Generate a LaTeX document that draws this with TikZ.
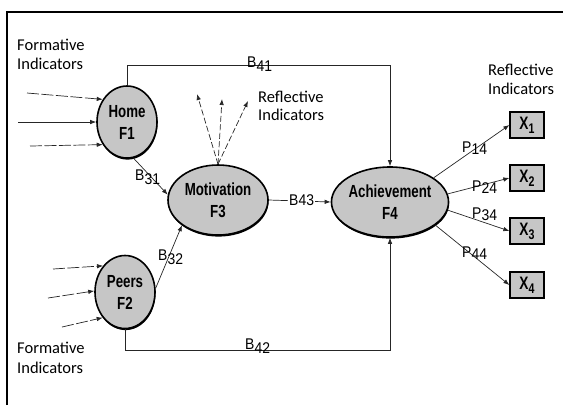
\documentclass[tikz,border=0pt]{standalone}
\usepackage{fontspec}
\setmainfont{Carlito}
\newfontfamily\nodefont[FakeStretch=0.76]{Liberation Sans}
\newfontfamily\labfont[FakeStretch=0.9]{Liberation Sans}
\usetikzlibrary{arrows.meta,shapes.geometric,shadows}
\newcommand\lsub[1]{\raisebox{-4bp}{#1}}
\newcommand\psub[1]{\raisebox{-2bp}{#1}}
\begin{document}
\begin{tikzpicture}[x=1bp,y=-1bp,
  lat/.style={ellipse, draw=black, line width=1.6bp, fill=gray!45, inner sep=0pt,
    align=center, font=\nodefont\bfseries\fontsize{17.5bp}{22bp}\selectfont,
    drop shadow={shadow xshift=0.5bp, shadow yshift=-1.6bp, fill=black, opacity=1}},
  ind/.style={rectangle, draw=black, line width=1.3bp, fill=gray!45, inner sep=0pt,
    minimum width=34bp, minimum height=26bp,
    font=\nodefont\bfseries\fontsize{18bp}{18bp}\selectfont,
    drop shadow={shadow xshift=1bp, shadow yshift=-1.4bp, fill=black, opacity=1}},
  arr/.style={-{Latex[length=6bp,width=4.5bp]}, line width=0.7bp, draw=black!85},
  brk/.style={dash pattern=on 12bp off 2.5bp},
  dsh/.style={dash pattern=on 6bp off 2.5bp},
  txt/.style={font=\fontsize{16.5bp}{18bp}\selectfont, inner sep=0pt, anchor=base west},
  lbl/.style={font=\labfont\fontsize{15.5bp}{15bp}\selectfont, inner sep=0pt, anchor=base west},
]
\useasboundingbox (0,0) rectangle (563,405);
\draw[line width=1.5bp] (7,405) -- (7,12) -- (563,12);

% latent variables
\node[lat, minimum width=60bp, minimum height=72bp] (home) at (127,122) {Home\\F1};
\node[lat, minimum width=60bp, minimum height=73bp] (peers) at (125,292) {Peers\\F2};
\node[lat, minimum width=100bp, minimum height=70bp] (motiv) at (218,200) {Motivation\\F3};
\node[lat, minimum width=116bp, minimum height=70bp] (ach) at (390,202) {Achievement\\F4};

% indicators
\node[ind] (x1) at (527,125) {X\lsub{\fontsize{14bp}{14bp}\selectfont 1}};
\node[ind] (x2) at (527,178) {X\lsub{\fontsize{14bp}{14bp}\selectfont 2}};
\node[ind] (x3) at (527,231) {X\lsub{\fontsize{14bp}{14bp}\selectfont 3}};
\node[ind] (x4) at (527,285) {X\lsub{\fontsize{14bp}{14bp}\selectfont 4}};

% texts
\node[txt] (t1) at (17,50) {Formative};
\node[txt] (t2) at (17,69) {Indicators};
\node[txt] (t3) at (17,353) {Formative};
\node[txt] (t4) at (17,373) {Indicators};
\node[txt] (t5) at (258,102) {Reflective};
\node[txt] (t6) at (258,120) {Indicators};
\node[txt] (t7) at (488,75) {Reflective};
\node[txt] (t8) at (488,94) {Indicators};

% formative arrows
\coordinate (h1) at (27,93);
\coordinate (h2) at (18,122);
\coordinate (h3) at (30,146);
\coordinate (p1) at (53,269);
\coordinate (p2) at (48,298);
\coordinate (p3) at (62,327);
\draw[arr, brk] (h1) -- (home.137);
\draw[arr] (h2) -- (home.west);
\draw[arr, brk] (h3) -- (home.-137);
\draw[arr, brk] (p1) -- (peers.130);
\draw[arr, brk] (p2) -- (peers.178);
\draw[arr, brk] (p3) -- (peers.-131);

% reflective arrows of motivation
\coordinate (r1) at (197,94);
\coordinate (r2) at (222,99);
\coordinate (r3) at (248,101);
\draw[arr, dsh] (motiv.north) -- (r1);
\draw[arr, dsh] (motiv.north) -- (r2);
\draw[arr, dsh] (motiv.north) -- (r3);

% structural paths
\draw[arr] (home.north) -- ++(0,-20) -| (ach.north);
\draw[arr] (peers.south) -- ++(0,21) -| (ach.south);
\draw[arr] (home.-80) -- (motiv.174);
\draw[arr] (peers.7) -- (motiv.-145);
\draw[arr] (motiv.east) -- (ach.west);

% reflective paths of achievement
\draw[arr] (ach.29) -- (x1.west);
\draw[arr] (ach.8) -- (x2.west);
\draw[arr] (ach.-8) -- (x3.west);
\draw[arr] (ach.-27) -- (x4.west);

% path labels
\node[lbl] (b41) at (247,67) {B\lsub{41}};
\node[lbl] (b42) at (245,349) {B\lsub{42}};
\node[lbl] (b31) at (135,180) {B\lsub{31}};
\node[lbl] (b32) at (158,260) {B\lsub{32}};
\node[lbl, fill=white, inner sep=1bp] (b43) at (288,205) {B43};
\node[lbl] (l14) at (462,152) {P\psub{14}};
\node[lbl] (l24) at (472,191) {P\psub{24}};
\node[lbl] (l34) at (472,218) {P\psub{34}};
\node[lbl] (l44) at (462,257) {P\psub{44}};
\end{tikzpicture}
\end{document}
